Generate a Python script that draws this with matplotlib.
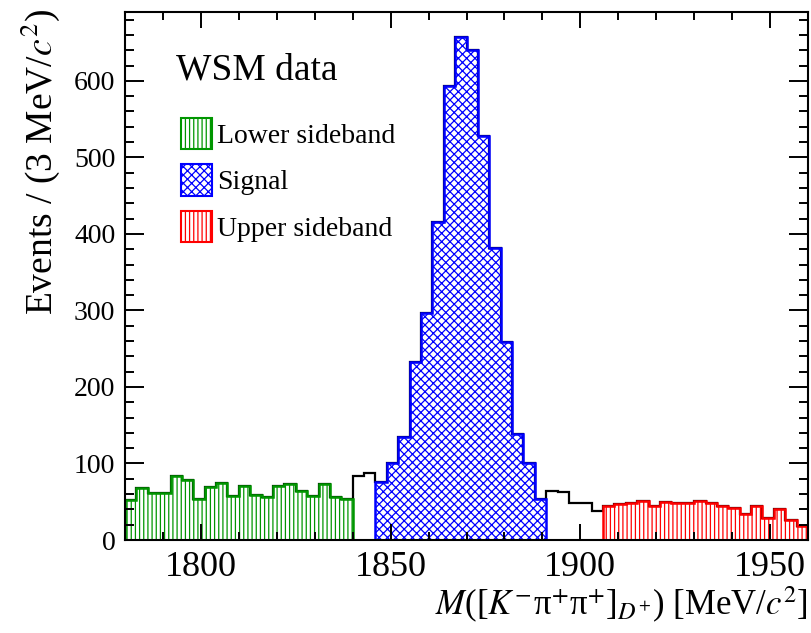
import matplotlib
matplotlib.use("Agg")
import matplotlib.pyplot as plt
import numpy as np
from matplotlib.patches import Patch
from matplotlib.ticker import MultipleLocator

plt.rcParams['font.family'] = ['Liberation Serif', 'DejaVu Serif']
plt.rcParams['mathtext.fontset'] = 'stix'
plt.rcParams['hatch.linewidth'] = 0.9

# ---- data (events per 3 MeV/c^2 bin) ----
x_start = 1780
bin_width = 3
lower_sideband = [52, 68, 62, 62, 83, 78, 53, 69, 75, 57, 70, 59, 56, 70, 73, 64, 57, 73, 56, 53]
gap_low = [83, 87]
signal = [76, 101, 134, 232, 297, 415, 593, 657, 640, 528, 382, 259, 138, 101, 53]
gap_high = [64, 63, 48, 48, 38]
upper_sideband = [44, 47, 49, 51, 45, 50, 48, 48, 51, 49, 44, 42, 34, 44, 29, 40, 26, 18]

labels = ["Lower sideband", "Signal", "Upper sideband"]
colors = ["#009600", "#0000ff", "#ff0000"]
hatches = ["||||", "xxxx", "||||"]

counts = np.array(lower_sideband + gap_low + signal + gap_high + upper_sideband)
edges = x_start + bin_width * np.arange(len(counts) + 1)

fig = plt.figure(figsize=(8.12, 6.33), dpi=100)
ax = fig.add_axes([125 / 812, 1 - 540 / 633, 683 / 812, 528 / 633])

# full histogram outline in black
ax.stairs(counts, edges, color="black", lw=1.6, baseline=0)

n1 = len(lower_sideband)
n2 = n1 + len(gap_low)
n3 = n2 + len(signal)
n4 = n3 + len(gap_high)
regions = [(0, n1, lower_sideband), (n2, n3, signal), (n4, len(counts), upper_sideband)]
for (i0, i1, vals), c, h in zip(regions, colors, hatches):
    e = edges[i0:i1 + 1]
    ax.stairs(vals, e, fill=True, facecolor="none", edgecolor=c, hatch=h, lw=0)
    ax.stairs(vals, e, color=c, lw=1.8, baseline=0)

ax.set_xlim(1780, 1960)
ax.set_ylim(0, 690)

ax.xaxis.set_major_locator(MultipleLocator(50))
ax.xaxis.set_minor_locator(MultipleLocator(10))
ax.yaxis.set_major_locator(MultipleLocator(100))
ax.yaxis.set_minor_locator(MultipleLocator(20))
ax.tick_params(axis="both", which="both", direction="in", top=True, right=True, width=1.4)
ax.tick_params(axis="x", which="major", length=11.5, labelsize=26, pad=8)
ax.tick_params(axis="x", which="minor", length=5.8)
ax.tick_params(axis="y", which="major", length=14, labelsize=20, pad=7)
ax.tick_params(axis="y", which="minor", length=6.5)
for s in ax.spines.values():
    s.set_linewidth(1.5)

ax.set_ylabel("Events / (3 MeV/$c^{2}$)", fontsize=27, loc="top")
ax.yaxis.set_label_coords(-0.092, 1.005)
ax.set_xlabel("$M$([$K^{-}$π${}^{+}$π${}^{+}$]$_{D^{+}}$) [MeV/$c^{2}$]", fontsize=25, loc="right")
ax.xaxis.set_label_coords(1.0, -0.085)

fig.text(176 / 812, 1 - 70 / 633, "WSM data", fontsize=27, va="center", ha="left")

handles = [Patch(facecolor="white", edgecolor=c, hatch=h, lw=1.5) for c, h in zip(colors, hatches)]
ax.legend(handles, labels, loc="upper left", bbox_to_anchor=(181 / 812, 1 - 118 / 633),
          bbox_transform=fig.transFigure, frameon=False, fontsize=20, borderpad=0,
          borderaxespad=0, handlelength=1.1, handleheight=1.35, handletextpad=0.2,
          labelspacing=0.55)

fig.savefig("out.png", dpi=100)
